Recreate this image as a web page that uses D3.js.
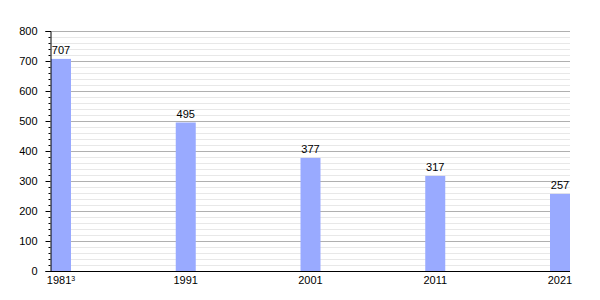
<!DOCTYPE html>
<html>
  <meta charset="utf-8" />
  <style>
    body { margin: 0; background: #fff; }
    text { font-family: "Liberation Sans", Arial, sans-serif; font-size: 11px; fill: #000; }
  </style>
  <svg width="600" height="300"></svg>
  <script src="https://d3js.org/d3.v7.min.js"></script>
  <script>
    const years = [1981, 1991, 2001, 2011, 2021];
    const yearLabels = ["1981", "1991", "2001", "2011", "2021"];
    const yearNotes = ["3", "", "", "", ""];
    const population = [707, 495, 377, 317, 257];

    const svg = d3.select("svg");
    const plotLeft = 51, plotRight = 570, plotTop = 31, plotBottom = 271;
    const barWidth = 20;

    const x = d3.scaleLinear().domain([1981, 2021]).range([plotLeft, plotRight - barWidth]);
    const y = d3.scaleLinear().domain([0, 800]).range([plotBottom, plotTop]);

    // minor grid
    svg.append("g")
      .selectAll("line")
      .data(d3.range(20, 801, 20).filter((v) => v % 100 !== 0))
      .join("line")
      .attr("x1", plotLeft).attr("x2", plotRight)
      .attr("y1", (d) => Math.round(y(d)) + 0.5)
      .attr("y2", (d) => Math.round(y(d)) + 0.5)
      .attr("stroke", "#e8e8e8");

    // major grid
    svg.append("g")
      .selectAll("line")
      .data(d3.range(100, 801, 100))
      .join("line")
      .attr("x1", plotLeft).attr("x2", plotRight)
      .attr("y1", (d) => Math.round(y(d)) + 0.5)
      .attr("y2", (d) => Math.round(y(d)) + 0.5)
      .attr("stroke", "#b0b0b0");

    // bars
    svg.append("g")
      .selectAll("rect")
      .data(population)
      .join("rect")
      .attr("x", (d, i) => x(years[i]))
      .attr("y", (d) => y(d))
      .attr("width", barWidth)
      .attr("height", (d) => y(0) - y(d))
      .attr("fill", "#99aaff");

    // value labels
    svg.append("g")
      .selectAll("text")
      .data(population)
      .join("text")
      .attr("x", (d, i) => x(years[i]) + barWidth / 2)
      .attr("y", (d) => y(d) - 5)
      .attr("text-anchor", "middle")
      .text((d) => d);

    // y axis
    const yAxis = d3.axisLeft(y).tickValues(d3.range(0, 801, 100)).tickSize(5).tickPadding(8);
    const ya = svg.append("g").attr("transform", `translate(${plotLeft - 0.5},0)`).call(yAxis);
    ya.select(".domain").attr("stroke", "#000");
    ya.selectAll("text").style("font-size", "11px").attr("fill", "#000");
    svg.append("g")
      .attr("transform", `translate(${plotLeft - 0.5},0)`)
      .call(d3.axisLeft(y).tickValues(d3.range(20, 801, 20).filter((v) => v % 100 !== 0)).tickSize(2).tickFormat(""))
      .select(".domain").remove();

    // x axis line
    svg.append("line")
      .attr("x1", plotLeft - 1).attr("x2", plotRight)
      .attr("y1", plotBottom + 0.5).attr("y2", plotBottom + 0.5)
      .attr("stroke", "#000");

    // x labels
    const xl = svg.append("g")
      .selectAll("text")
      .data(years)
      .join("text")
      .attr("x", (d) => x(d) + barWidth / 2)
      .attr("y", 284)
      .attr("text-anchor", "middle");
    xl.append("tspan").text((d, i) => yearLabels[i]);
    xl.append("tspan")
      .attr("dy", -3)
      .style("font-size", "7px")
      .text((d, i) => yearNotes[i]);
  </script>
</html>
